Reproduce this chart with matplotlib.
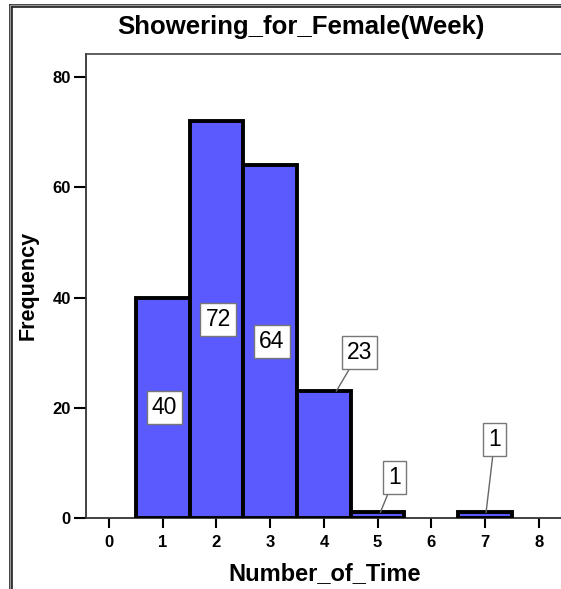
import matplotlib.pyplot as plt
from matplotlib.lines import Line2D

plt.rcParams['font.family'] = ['Liberation Sans', 'DejaVu Sans']

# Histogramm-Daten
times = [1, 2, 3, 4, 5, 6, 7]
counts = [40, 72, 64, 23, 1, 0, 1]
x_ticks = [0, 1, 2, 3, 4, 5, 6, 7, 8]
y_ticks = [0, 20, 40, 60, 80]

W, H = 561, 589
fig = plt.figure(figsize=(W / 100, H / 100), dpi=100)

# Rahmen um die ganze Grafik (rechts und unten abgeschnitten)
for off, c, lw in [(9.5, '#222222', 1.2), (10.8, '#999999', 1.5), (12.0, '#222222', 1.2)]:
    fig.add_artist(Line2D([off / W, off / W], [0, 1 - (off - 5) / H], color=c, lw=lw))
    fig.add_artist(Line2D([off / W, 1], [1 - (off - 5) / H, 1 - (off - 5) / H], color=c, lw=lw))

ax = fig.add_axes([86 / W, 71 / H, (W - 86) / W, (518 - 54) / H])

xs = [t for t, c in zip(times, counts) if c > 0]
hs = [c for c in counts if c > 0]
ax.bar(xs, hs, width=1.0, color='#5a5aff', edgecolor='black', linewidth=2.8, zorder=3)

ax.set_xlim(-0.43, -0.43 + (W - 86) / 53.7)
ax.set_ylim(0, 84.2)
ax.set_xticks(x_ticks)
ax.set_yticks(y_ticks)
ax.tick_params(axis='x', direction='out', length=7, width=1.5, pad=5, labelsize=12)
ax.tick_params(axis='y', direction='out', length=9, width=1.5, pad=2, labelsize=12)
for lab in ax.get_xticklabels() + ax.get_yticklabels():
    lab.set_fontweight('bold')

ax.spines['right'].set_visible(False)
ax.spines['top'].set_color('#444444')
ax.spines['top'].set_linewidth(1.2)
ax.spines['left'].set_color('#333333')
ax.spines['left'].set_linewidth(1.3)
ax.spines['bottom'].set_color('#333333')
ax.spines['bottom'].set_linewidth(1.3)

box = dict(boxstyle='square,pad=0.22', facecolor='white', edgecolor='#777777', linewidth=1)
# Beschriftungen ausserhalb der kleinen Balken: (Startpunkt-x-Versatz, Box-x, Box-y)
outside = {4: (0.23, 4.66, 30.1), 5: (0.05, 5.32, 7.4), 7: (0.02, 7.18, 14.2)}
for t, c in zip(times, counts):
    if c == 0:
        continue
    if t in outside:
        dx, bx, by = outside[t]
        ax.annotate(str(c), xy=(t + dx, c), xytext=(bx, by), ha='center', va='center',
                    fontsize=16.5, bbox=box, zorder=5,
                    arrowprops=dict(arrowstyle='-', color='#666666', lw=1, shrinkA=0, shrinkB=0))
    else:
        ax.text(t + 0.03, c / 2, str(c), ha='center', va='center', fontsize=16.5, bbox=box, zorder=5)

fig.text(301 / W, 1 - 27 / H, 'Showering_for_Female(Week)', ha='center', va='center',
         fontsize=18.5, fontweight='bold')
fig.text(325 / W, 1 - 574 / H, 'Number_of_Time', ha='center', va='center',
         fontsize=17, fontweight='bold')
fig.text(28 / W, 1 - 285 / H, 'Frequency', ha='center', va='center', rotation=90,
         fontsize=15.5, fontweight='bold')

fig.savefig('out.png', dpi=100)
